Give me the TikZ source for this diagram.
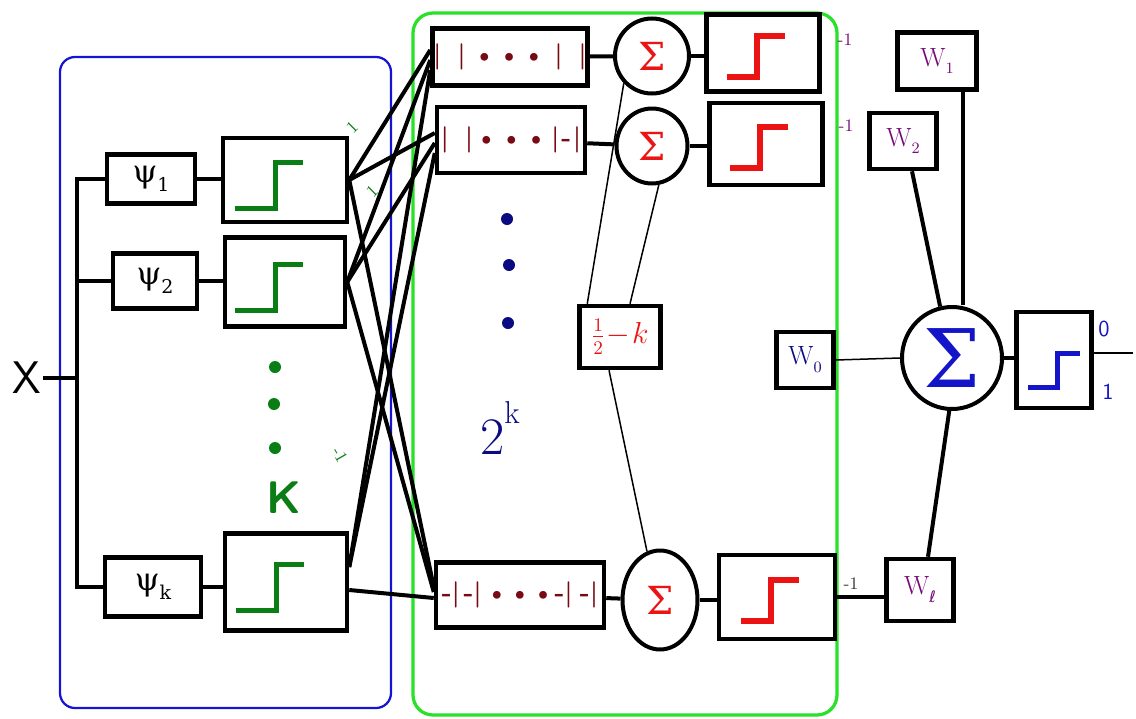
\documentclass[tikz,border=0pt]{standalone}
\usepackage{fontspec}
\newfontfamily\grk{DejaVu Serif}
\newfontfamily\symf{DejaVu Sans}
\usetikzlibrary{calc,shapes.geometric}

\definecolor{boxblue}{RGB}{20,20,210}
\definecolor{boxgreen}{RGB}{40,225,40}
\definecolor{stepgreen}{RGB}{10,125,20}
\definecolor{stepred}{RGB}{235,20,20}
\definecolor{bitred}{RGB}{120,10,20}
\definecolor{navyblue}{RGB}{10,10,130}
\definecolor{wpurple}{RGB}{120,10,120}
\definecolor{outblue}{RGB}{20,20,200}

\newcommand\setfs[1]{\fontsize{#1}{#1}\selectfont}
\newcommand\gap[1]{\hspace{#1pt}}
\newcommand\lowsub[1]{\raisebox{-0.3em}{\fontsize{0.6em}{0.6em}\selectfont #1}}

\begin{document}
\begin{tikzpicture}[x=0.2mm,y=-0.2mm,
  box/.style={draw=black, line width=0.9mm, fill=white, inner sep=0pt, rectangle},
  sz/.style 2 args={minimum width=#1*0.2mm, minimum height=#2*0.2mm},
  sumnode/.style={draw=black, line width=0.8mm, fill=white, inner sep=0pt, ellipse},
  wire/.style={line width=0.8mm},
  thin/.style={line width=0.3mm},
  bits/.style={text=bitred, font=\setfs{15}\bfseries},
  wlab/.style={text=wpurple, font=\setfs{15}},
  tiny/.style={font=\setfs{10}, inner sep=0pt},
  gstep/.pic={\draw[line width=1mm, pic actions] (-50,28) -- (-10,28) -- (-10,-18) -- (18,-18);},
  rstep/.pic={\draw[line width=1.2mm, pic actions] (-36,24) -- (-6,24) -- (-6,-17) -- (22,-17);},
  dot/.style={circle, fill=#1, inner sep=0pt, minimum size=2.4mm}
]
\useasboundingbox (0,0) rectangle (1136,718);

% group frames
\draw[boxblue, line width=0.45mm, rounded corners=3mm] (60,57) rectangle (391,708);
\draw[boxgreen, line width=0.65mm, rounded corners=4mm] (413,13) rectangle (837,715);

% input and feature blocks
\node[font=\setfs{26}\sffamily, inner sep=1pt] (xin) at (27,378) {X};
\node[box, sz={88}{49}, font=\setfs{18}\grk] (psi1) at (151,179) {ψ\lowsub{1}};
\node[box, sz={84}{55}, font=\setfs{18}\grk] (psi2) at (155,281) {ψ\lowsub{2}};
\node[box, sz={96}{59}, font=\setfs{18}\grk] (psik) at (153,587) {ψ\lowsub{k}};
\coordinate (bustop) at (77,179);
\coordinate (busbot) at (77,587);
\draw[wire] (psi1.west) -| (busbot) -- (psik.west);
\draw[wire] (psi2.west) -- (psi2.west -| bustop);
\draw[wire] (xin.east) -- (xin.east -| bustop);

% threshold blocks (green)
\node[box, sz={124}{84}] (g1) at (285,180) {};
\node[box, sz={120}{89}] (g2) at (285,282) {};
\node[box, sz={122}{97}] (gk) at (286,582) {};
\pic[stepgreen] at (g1) {gstep};
\pic[stepgreen] at (g2) {gstep};
\pic[stepgreen] at (gk) {gstep};
\draw[wire] (psi1.east) -- (psi1.east -| g1.west);
\draw[wire] (psi2.east) -- (psi2.east -| g2.west);
\draw[wire] (psik.east) -- (psik.east -| gk.west);

\node[dot=stepgreen] (gd1) at (275,367) {};
\node[dot=stepgreen] (gd2) at (274,404) {};
\node[dot=stepgreen] (gd3) at (275,448) {};
\node[text=stepgreen, font=\setfs{26}\sffamily\bfseries] (kl) at (284,498) {K};

% code words
\node[box, sz={155}{57}, bits] (a1) at (510,57) {|\gap{9}|\gap{4}•\gap{1}•\gap{1}•\gap{5}|\gap{9}|};
\node[box, sz={148}{66}, bits] (a2) at (511,140) {|\gap{9}|\gap{1}•\gap{1}•\gap{1}•\gap{2}|\gap{1}-\gap{1}|};
\node[box, sz={168}{65}, bits] (a3) at (520,595) {-|\gap{2}-|\gap{2}•\gap{0}•\gap{0}•-|\gap{4}-|};

% full connection between thresholds and code words
\draw[wire] (g1.east) -- ($(a1.west)+(0,-7)$);
\draw[wire] (g1.east) -- ($(a2.west)+(0,-7)$);
\draw[wire] (g1.east) -- ($(a3.west)+(0,-8)$);
\draw[wire] (g2.east) -- ($(a1.west)+(0,3)$);
\draw[wire] (g2.east) -- ($(a2.west)+(0,3)$);
\draw[wire] (g2.east) -- ($(a3.west)+(0,-3)$);
\draw[wire] ($(gk.east)+(0,-15)$) -- ($(a1.west)+(0,13)$);
\draw[wire] ($(gk.east)+(0,-15)$) -- ($(a2.west)+(0,13)$);
\draw[wire] ($(gk.east)+(0,8)$) -- ($(a3.west)+(0,3)$);

\node[tiny, text=stepgreen, rotate=45] (l1) at (352,127) {1};
\node[tiny, text=stepgreen, rotate=45] (l2) at (372,191) {1};
\node[tiny, text=stepgreen, rotate=-60] (l3) at (340,455) {-1};

\node[dot=navyblue] (bd1) at (507,219) {};
\node[dot=navyblue] (bd2) at (509,265) {};
\node[dot=navyblue] (bd3) at (508,323) {};
\node[text=navyblue, font=\setfs{30}] (twok) at (500,428) {2\raisebox{0.6em}{\setfs{18}k}};

% sums and thresholds (red)
\node[sumnode, sz={74}{75}, text=stepred, font=\setfs{22}\grk] (s1) at (652,56) {Σ};
\node[sumnode, sz={71}{75}, text=stepred, font=\setfs{22}\grk] (s2) at (652,146) {Σ};
\node[sumnode, sz={75}{99}, text=stepred, font=\setfs{22}\grk] (s3) at (660,600) {Σ};
\node[box, sz={113}{77}] (r1) at (763,53) {};
\node[box, sz={113}{82}] (r2) at (766,144) {};
\node[box, sz={116}{84}] (r3) at (777,597) {};
\pic[stepred] at (r1) {rstep};
\pic[stepred] at (r2) {rstep};
\pic[stepred] at (r3) {rstep};
\draw[wire] (a1) -- (s1);
\draw[wire] (a2) -- (s2);
\draw[wire] (a3) -- (s3);
\draw[wire] (s1) -- (s1 -| r1.west);
\draw[wire] (s2) -- (s2 -| r2.west);
\draw[wire] (s3) -- (s3 -| r3.west);

% bias shared by the sums
\node[box, sz={81}{62}, text=stepred, font=\setfs{16}] (half) at (620,337) {$\frac{1}{2}\!-\!k$};
\draw[thin] (s1.224) -- ($(half.north west)+(10,0)$);
\draw[thin] (s2.280) -- ($(half.north)+(10,0)$);
\draw[thin] ($(half.south)+(-11,0)$) -- (s3.105);

% output weights
\node[box, sz={79}{57}, wlab] (w1) at (937,61) {W\lowsub{1}};
\node[box, sz={67}{56}, wlab] (w2) at (903,141) {W\lowsub{2}};
\node[box, sz={57}{56}, text=navyblue, font=\setfs{15}] (w0) at (805,360) {W\lowsub{0}};
\node[box, sz={67}{62}, wlab] (wl) at (920,590) {W\lowsub{\symf ℓ}};

\draw[wire] ($(r1.east)+(0,5)$) -- ($(r1.east)+(0,5)$ -| w1.west);
\draw[wire] ($(r2.east)+(0,-6)$) -- ($(r2.east)+(0,-6)$ -| w2.west);
\draw[wire] (r3.east) -- (r3.east -| wl.west);
\node[tiny, text=wpurple] (m1) at (845,40) {-1};
\node[tiny, text=wpurple] (m2) at (846,126) {-1};
\node[tiny, text=black!80] (m3) at (851,584) {-1};

% final sum and threshold
\node[sumnode, sz={100}{102}, text=outblue, font=\setfs{46}\grk] (bigS) at (952,358) {Σ};
\node[box, sz={75}{96}] (out) at (1054,360) {};
\draw[line width=1mm, outblue] ($(out)+(-26,27)$) -- ($(out)+(3,27)$) -- ($(out)+(3,-7)$) -- ($(out)+(26,-7)$);
\coordinate (w1b) at ($(w1.south)+(26,0)$);
\draw[wire] (w1b) -- (w1b |- bigS.north);
\draw[wire] ($(w2.south)+(9,0)$) -- (bigS.103);
\draw[wire] ($(wl.north)+(8,0)$) -- (bigS.267);
\draw[thin] (w0.east) -- (bigS.west);
\draw[wire] (bigS) -- (bigS -| out.west);
\coordinate (yend) at (1133,353);
\draw[line width=0.3mm] (out.east |- yend) -- (yend);
\node[text=outblue, font=\setfs{13}\sffamily] (o0) at (1104,329) {0};
\node[text=outblue, font=\setfs{13}\sffamily] (o1) at (1108,392) {1};
\end{tikzpicture}
\end{document}
